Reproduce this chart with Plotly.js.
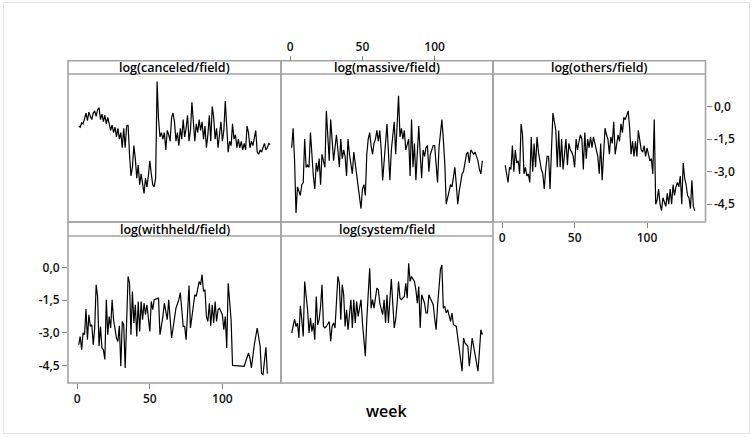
<!DOCTYPE html>
<html>
<head>
<meta charset="utf-8">
<script src="https://cdn.plot.ly/plotly-3.0.1.min.js"></script>
<style>html,body{margin:0;padding:0;background:#fff;}#chart{width:753px;height:437px;}</style>
</head>
<body>
<div id="chart"></div>
<script>
// ---------- DATA ----------
const panelTitles = ["log(canceled/field)", "log(massive/field)", "log(others/field)", "log(withheld/field)", "log(system/field"];
const xTickVals = [0, 50, 100];
const xTickText = ["0", "50", "100"];
const yTickVals = [0, -1.5, -3, -4.5];
const yTickText = ["0,0", "-1,5", "-3,0", "-4,5"];
const xAxisTitle = "week";

const canceledWeeks = [];
for (let w = 1; w <= 133; w++) canceledWeeks.push(w);
const canceledValues = [-0.9,-0.95,-0.75,-0.8,-0.55,-0.3,-0.65,-0.25,-0.45,-0.6,-0.3,-0.2,-0.45,-0.15,-0.05,-0.6,-0.35,-0.7,-0.4,-0.8,
-0.5,-0.9,-1.1,-0.85,-1.2,-0.95,-1.4,-1.0,-1.5,-1.2,-1.9,-1.0,-1.9,-0.9,-0.85,-2.2,-3.2,-2.8,-1.8,-2.4,
-3.3,-2.7,-3.6,-3.1,-3.5,-4.0,-3.3,-3.7,-3.2,-2.5,-3.1,-3.6,-3.7,-3.3,1.15,-0.6,-1.4,-1.2,-1.5,-1.2,
-2.0,-1.1,-1.3,-1.6,-0.5,-0.3,-0.7,-1.6,-1.2,-1.8,-1.0,-1.5,-0.6,-1.4,-1.0,-0.4,-1.6,-1.1,0.2,-0.9,
-1.6,-0.8,-1.2,-0.6,-1.1,-0.7,-1.5,-0.9,-1.9,-1.3,-0.4,-1.6,0.0,-0.5,-1.5,-1.0,-1.9,-1.3,-0.7,-1.6,
-1.1,0.25,-1.3,-2.1,-1.6,-1.8,-0.8,-1.5,-1.3,-1.9,-1.5,-1.9,-1.6,-2.0,-1.7,-2.0,-0.9,-1.2,-1.9,-1.6,
-1.8,-1.5,-1.1,-2.1,-2.2,-2.0,-2.1,-1.9,-1.7,-2.0,-1.9,-1.7,-1.75];

const massiveWeeks = [];
for (let w = 1; w <= 133; w++) massiveWeeks.push(w);
const massiveValues = [-1.9,-1.0,-2.5,-4.9,-3.7,-3.9,-4.1,-3.6,-3.5,-1.5,-2.8,-2.7,-2.8,-1.2,-2.3,-3.2,-3.8,-2.6,-3.0,-2.4,
-3.6,-2.2,-2.5,-2.8,-0.2,-1.6,-2.5,-0.6,-1.5,-2.5,-1.9,-1.3,-2.0,-2.8,-1.5,-2.4,-2.0,-2.3,-3.2,-1.5,
-2.2,-2.6,-3.1,-2.1,-2.6,-3.1,-3.7,-4.2,-4.7,-3.8,-3.6,-4.1,-2.2,-1.5,-1.2,-1.8,-2.2,-1.7,-1.5,-1.1,
-1.6,-1.1,-2.0,-3.4,-2.6,-1.4,-0.8,-2.1,-3.4,-2.0,-1.4,-0.7,-2.2,-1.0,0.5,-1.4,-1.0,-1.5,-1.1,-2.0,
-1.8,-1.5,-3.2,-0.6,-2.8,-1.7,-3.4,-1.9,-0.9,-2.2,-3.3,-2.0,-2.3,-1.9,-1.8,-3.0,-2.2,-2.0,-1.8,-1.8,
-2.5,-3.5,-1.9,-1.1,-0.6,-1.5,-2.6,-4.5,-4.2,-4.0,-3.6,-3.7,-3.2,-2.8,-3.6,-4.5,-3.9,-3.5,-3.1,-3.0,
-2.5,-2.2,-2.1,-2.6,-2.0,-2.1,-2.2,-2.1,-2.3,-2.5,-2.9,-3.1,-2.5];

const othersWeeks = [];
for (let w = 2; w <= 133; w++) othersWeeks.push(w);
const othersValues = [-2.7,-3.1,-3.5,-2.8,-2.9,-1.8,-3.0,-2.0,-2.6,-2.5,-3.1,-0.8,-1.3,-3.1,-2.8,-3.2,-3.1,-3.5,-1.4,
-3.0,-1.7,-2.8,-1.4,-2.1,-2.6,-2.9,-3.1,-3.8,-2.9,-2.3,-2.3,-3.8,-2.0,-0.3,-0.7,-1.1,-2.8,-1.1,-2.8,
-1.5,-2.9,-2.2,-1.5,-2.7,-1.7,-2.0,-2.1,-2.3,-2.8,-1.5,-2.0,-1.6,-1.3,-1.5,-2.9,-1.2,-2.4,-1.5,-1.9,
-1.4,-1.9,-1.4,-1.7,-1.9,-2.3,-3.1,-1.7,-3.4,-2.2,-1.0,-1.3,-1.5,-2.2,-1.4,-1.7,-0.7,-2.2,-1.8,-1.3,
-1.6,-0.8,-1.2,-0.5,-0.6,-0.4,-0.2,-1.0,-2.2,-1.6,-2.3,-1.6,-2.3,-1.1,-1.5,-2.0,-2.1,-1.8,-2.3,-1.9,
-2.2,-2.5,-2.4,-3.1,-0.6,-4.5,-4.3,-3.8,-4.5,-4.8,-4.2,-4.4,-4.6,-4.0,-4.5,-3.8,-4.5,-3.6,-4.1,-3.7,
-3.5,-3.7,-3.2,-4.5,-2.6,-3.3,-3.6,-4.1,-4.2,-4.7,-3.4,-4.6,-4.8];

const withheldWeeks = [1,2,3,4,5,6,7,8,9,10,11,12,13,14,15,16,17,18,19,20,21,22,23,24,25,26,27,28,29,30,31,32,33,35,36,37,38,39,40,
41,42,43,44,45,46,47,48,50,51,52,53,56,57,59,60,62,63,65,67,68,70,71,73,74,75,77,78,80,81,82,83,84,85,86,87,88,89,90,
91,92,93,94,95,96,97,98,100,101,102,103,104,106,107,115,118,119,120,122,124,126,127,128,130,131];
const withheldValues = [-3.55,-3.17,-3.78,-3.0,-3.09,-1.91,-3.32,-2.17,-2.71,-2.63,-3.55,-2.78,-0.79,-1.33,-3.62,-2.71,-3.7,-3.78,-4.23,-1.48,
-3.09,-2.25,-2.78,-1.48,-2.4,-2.9,-3.24,-3.4,-2.68,-4.54,-2.48,-2.63,-4.62,-0.41,-0.72,-3.09,-1.1,-2.55,-1.71,
-3.17,-1.56,-2.94,-1.56,-2.4,-1.64,-2.17,-1.71,-2.94,-1.56,-1.94,-1.48,-1.41,-3.09,-2.25,-1.64,-2.4,-1.48,-3.24,-2.25,-1.87,-1.48,-1.15,-2.71,-2.71,-3.32,-0.83,-2.78,-1.64,-1.25,-1.33,-1.02,-0.64,-0.79,-0.33,-1.1,-1.02,-2.25,-2.48,
-1.64,-2.68,-1.71,-2.55,-1.56,-2.48,-1.94,-1.87,-2.17,-2.86,-2.25,-3.7,-0.72,-2.4,-4.5,-4.54,-3.93,-4.16,-4.62,-3.55,-2.78,-3.62,-4.88,-4.92,-3.67,-4.88];

const systemWeeks = [1,3,4,5,6,7,8,9,10,12,13,14,15,16,17,18,19,20,21,22,23,24,25,27,28,29,30,31,33,34,35,36,37,38,39,40,42,43,44,45,
46,47,49,50,52,53,55,56,57,58,60,61,62,64,65,66,67,68,69,70,72,73,74,75,76,77,79,80,81,82,83,84,86,87,88,89,90,91,93,94,
95,96,97,99,100,101,102,104,105,106,107,108,109,111,112,113,115,116,117,119,120,121,123,124,126,127,128,130,131,132,133];
const systemValues = [-3.01,-2.37,-2.71,-2.55,-3.24,-1.76,-2.4,-3.17,-0.64,-1.94,-3.01,-2.31,-2.94,-2.55,-3.32,-1.33,-2.63,-2.4,-1.79,-0.79,
-2.71,-2.78,-2.71,-2.48,-3.39,-2.71,-2.55,-2.78,-0.41,-0.72,-2.4,-0.79,-1.25,-2.71,-1.94,-2.86,-1.48,-2.78,-1.48,-2.55,
-1.56,-2.25,-1.48,-2.55,-4.08,-2.4,-0.03,-1.87,-1.48,-1.87,-0.95,-1.02,-1.64,-2.17,-1.48,-2.55,-1.25,-2.55,-1.48,-0.53,
-2.78,-2.4,-1.64,-0.64,-1.41,-1.48,-1.33,-0.72,-1.41,0.2,-0.64,-0.41,-0.64,-1.02,-1.64,-0.87,-2.78,-1.25,-1.64,-2.09,
-2.09,-1.25,-1.41,-1.71,-2.33,-2.86,-1.79,-0.1,0.12,-1.87,-1.79,-2.09,-1.94,-2.48,-2.09,-2.63,-2.71,-3.24,-3.62,-4.77,
-3.24,-3.47,-3.62,-4.54,-3.24,-3.62,-3.93,-4.77,-3.85,-2.86,-3.09];

// ---------- LAYOUT GEOMETRY (pixels) ----------
const W = 753, H = 437;
const colX = [[68, 281], [281, 493], [493, 705.5]];
const row1 = {stripTop: 60.7, stripBot: 74, plotBot: 222};
const row2 = {stripTop: 222, stripBot: 236, plotBot: 383};
const px = v => v / W;
const py = v => 1 - v / H;

const xRange = [-6.4, 140.4];
const yRange1 = [-5.32, 1.5];
const yRange2 = [-5.31, 1.45];

const series = [
  {x: canceledWeeks, y: canceledValues},
  {x: massiveWeeks, y: massiveValues},
  {x: othersWeeks, y: othersValues},
  {x: withheldWeeks, y: withheldValues},
  {x: systemWeeks, y: systemValues}
];
const cells = [[0, row1], [1, row1], [2, row1], [0, row2], [1, row2]];

const FONT = "Open Sans, Noto Sans, sans-serif";
const traces = series.map((s, i) => ({
  type: "scatter", mode: "lines", x: s.x, y: s.y,
  xaxis: "x" + (i === 0 ? "" : i + 1), yaxis: "y" + (i === 0 ? "" : i + 1),
  line: {color: "#000", width: 1.2}, hoverinfo: "skip", showlegend: false
}));

const layout = {
  width: W, height: H,
  margin: {l: 0, r: 0, t: 0, b: 0},
  paper_bgcolor: "#fff", plot_bgcolor: "rgba(0,0,0,0)",
  font: {family: FONT, size: 12, color: "#000"},
  showlegend: false,
  shapes: [], annotations: []
};

const tickFont = {family: FONT, size: 12, color: "#111", weight: 600};
cells.forEach(([c, r], i) => {
  const k = i === 0 ? "" : (i + 1);
  const xa = {
    domain: [px(colX[c][0]), px(colX[c][1])], range: xRange,
    showgrid: false, zeroline: false, showline: false, showticklabels: false, ticks: "",
    anchor: "y" + k, fixedrange: true
  };
  const ya = {
    domain: [py(r.plotBot), py(r.stripBot)], range: r === row1 ? yRange1 : yRange2,
    showgrid: false, zeroline: false, showline: false, showticklabels: false, ticks: "",
    anchor: "x" + k, fixedrange: true
  };
  layout["xaxis" + k] = xa;
  layout["yaxis" + k] = ya;

  // panel frame
  layout.shapes.push({type: "rect", xref: "paper", yref: "paper",
    x0: px(colX[c][0]), x1: px(colX[c][1]), y0: py(r.plotBot), y1: py(r.stripTop),
    line: {color: "#a3a3a3", width: 1.6}, fillcolor: "rgba(0,0,0,0)", layer: "below"});
  layout.shapes.push({type: "line", xref: "paper", yref: "paper",
    x0: px(colX[c][0]), x1: px(colX[c][1]), y0: py(r.stripBot), y1: py(r.stripBot),
    line: {color: "#a3a3a3", width: 1.6}, layer: "below"});
  // strip title
  layout.annotations.push({xref: "paper", yref: "paper",
    x: px((colX[c][0] + colX[c][1]) / 2), y: py((r.stripTop + r.stripBot) / 2 + 0.3),
    text: panelTitles[i], showarrow: false, xanchor: "center", yanchor: "middle",
    font: {family: FONT, size: 12.5, color: "#000", weight: 600}});
});

// tick axes (Minitab alternating pattern)
const xTickCommon = {showticklabels: true, ticks: "outside", ticklen: 5, tickwidth: 1, tickcolor: "#888",
  tickvals: xTickVals, ticktext: xTickText, tickfont: tickFont};
Object.assign(layout.xaxis2, xTickCommon, {side: "top", anchor: "free", position: py(row1.stripTop)});
Object.assign(layout.xaxis3, xTickCommon, {side: "bottom"});
Object.assign(layout.xaxis4, xTickCommon, {side: "bottom"});
const yTickCommon = {showticklabels: true, ticks: "outside", ticklen: 5, tickwidth: 1, tickcolor: "#888",
  tickvals: yTickVals, ticktext: yTickText, tickfont: tickFont};
Object.assign(layout.yaxis3, yTickCommon, {side: "right"});
Object.assign(layout.yaxis4, yTickCommon, {side: "left"});

// x axis title
layout.annotations.push({xref: "paper", yref: "paper", x: px(386), y: py(411),
  text: xAxisTitle, showarrow: false, xanchor: "center", yanchor: "middle",
  font: {family: FONT, size: 16, color: "#000", weight: 600}});

// outer light frame
layout.shapes.push({type: "rect", xref: "paper", yref: "paper",
  x0: px(3.5), x1: px(749.5), y0: py(433.5), y1: py(2.5),
  line: {color: "#e4e4e4", width: 1}, layer: "below"});

Plotly.newPlot("chart", traces, layout, {staticPlot: true, displayModeBar: false});
</script>
</body>
</html>
